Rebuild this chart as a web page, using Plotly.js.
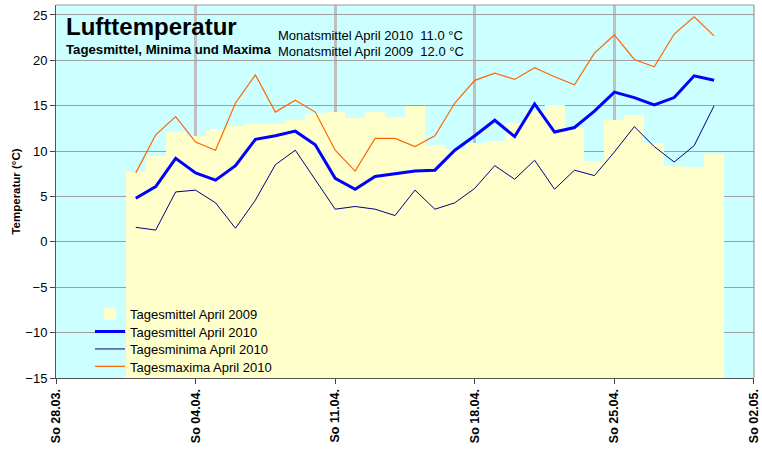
<!DOCTYPE html>
<html>
<head>
<meta charset="utf-8">
<script src="https://cdn.plot.ly/plotly-3.0.1.min.js"></script>
<style>html,body{margin:0;padding:0;background:#fff;}#chart{width:762px;height:450px;}</style>
</head>
<body>
<div id="chart"></div>
<script>
// ---- data ----
const aprilDays = Array.from({length: 30}, (_, i) => '2010-04-' + String(i + 1).padStart(2, '0'));

const mean2009 = [7.7, 9.5, 12.1, 11.7, 12.4, 12.8, 13.0, 13.0, 13.4, 14.2,
                  14.3, 13.6, 14.3, 13.8, 15.0, 10.7, 10.2, 10.9, 11.1, 13.1,
                  14.4, 15.1, 12.6, 8.9, 13.4, 14.0, 10.9, 8.4, 8.2, 9.7];

const mean2010 = [4.8, 6.1, 9.2, 7.6, 6.8, 8.4, 11.3, 11.7, 12.2, 10.7,
                  7.0, 5.8, 7.2, 7.5, 7.8, 7.9, 10.1, 11.7, 13.4, 11.6,
                  15.2, 12.1, 12.6, 14.4, 16.5, 15.9, 15.1, 15.9, 18.3, 17.8];

const min2010 = [1.6, 1.3, 5.5, 5.7, 4.3, 1.5, 4.6, 8.5, 10.1, 6.8,
                 3.6, 3.9, 3.6, 2.9, 5.7, 3.6, 4.3, 5.9, 8.4, 6.9,
                 9.0, 5.8, 7.9, 7.3, 9.9, 12.7, 10.5, 8.8, 10.6, 15.0];

const max2010 = [7.6, 11.8, 13.8, 11.0, 10.1, 15.3, 18.4, 14.3, 15.6, 14.3,
                 10.1, 7.8, 11.4, 11.4, 10.5, 11.7, 15.3, 17.8, 18.6, 17.9,
                 19.2, 18.2, 17.3, 20.8, 22.8, 20.1, 19.3, 22.9, 24.8, 22.7];

const tickDates = ['2010-03-28', '2010-04-04', '2010-04-11', '2010-04-18', '2010-04-25', '2010-05-02'];
const tickLabels = ['So 28.03.', 'So 04.04.', 'So 11.04.', 'So 18.04.', 'So 25.04.', 'So 02.05.'];
const yTicks = [-15, -10, -5, 0, 5, 10, 15, 20, 25];

const monthMean2010 = '11.0';
const monthMean2009 = '12.0';
const axisBase = -15;

// ---- chart ----
const FONT = 'Liberation Sans, Arial, Helvetica, sans-serif';
const DAY_MS = 86400000;

const traces = [
  {
    type: 'bar', name: 'Tagesmittel April 2009', legend: 'legend',
    x: aprilDays, y: mean2009.map(v => v - axisBase), base: axisBase,
    width: DAY_MS, marker: {color: '#FFFFCC', line: {width: 0}}
  },
  {
    type: 'scatter', mode: 'lines', name: 'Tagesmittel April 2010', legend: 'legend2',
    x: aprilDays, y: mean2010, line: {color: '#0000FF', width: 3}
  },
  {
    type: 'scatter', mode: 'lines', name: 'Tagesminima April 2010', legend: 'legend3',
    x: aprilDays, y: min2010, line: {color: '#000080', width: 1}
  },
  {
    type: 'scatter', mode: 'lines', name: 'Tagesmaxima April 2010', legend: 'legend4',
    x: aprilDays, y: max2010, line: {color: '#FF6600', width: 1.2}
  }
];

const L = 56, R = 8, T = 5, B = 72;
const W = 762 - L - R, H = 450 - T - B;
const px = v => (v - L) / W;
const py = v => (T + H - v) / H;
const CYAN = '#CCFFFF';

function legendAt(yPix) {
  return {
    x: px(90), y: py(yPix), xanchor: 'left', yanchor: 'middle',
    bgcolor: 'rgba(0,0,0,0)', borderwidth: 0,
    font: {family: FONT, size: 13, color: '#000'},
    itemwidth: 30
  };
}

const layout = {
  width: 762, height: 450,
  margin: {l: L, r: R, t: T, b: B, pad: 0},
  paper_bgcolor: '#FFFFFF',
  plot_bgcolor: CYAN,
  bargap: 0,
  font: {family: FONT, size: 13, color: '#000'},
  showlegend: true,
  legend: legendAt(314),
  legend2: legendAt(331.5),
  legend3: legendAt(349),
  legend4: legendAt(366.5),
  xaxis: {
    type: 'date',
    range: ['2010-03-28 00:00', '2010-05-02 00:02'],
    tickmode: 'array', tickvals: tickDates, ticktext: tickLabels,
    tickangle: -90,
    ticklabeloverflow: 'allow',
    tickfont: {family: FONT, size: 12.5, weight: 'bold', color: '#000'},
    ticks: 'outside', ticklen: 5, tickcolor: '#444', tickwidth: 1,
    showgrid: true, gridcolor: '#C0C0C0', gridwidth: 3,
    showline: true, linecolor: '#555', linewidth: 1,
    zeroline: false, fixedrange: true
  },
  yaxis: {
    range: [-15, 26.1],
    tickmode: 'array', tickvals: yTicks,
    tickfont: {family: FONT, size: 13, color: '#000'},
    ticks: 'outside', ticklen: 5, tickcolor: '#444', tickwidth: 1,
    showgrid: true, gridcolor: '#A0A0A0', gridwidth: 1,
    zeroline: false,
    showline: true, linecolor: '#555', linewidth: 1,
    title: {text: 'Temperatur (°C)', font: {family: FONT, size: 11.5, weight: 'bold', color: '#000'}, standoff: 2},
    fixedrange: true
  },
  shapes: [
    // cyan boxes behind the title texts and the legend (hide gridlines there)
    {type: 'rect', xref: 'paper', yref: 'paper', x0: 0, x1: px(315), y0: py(62), y1: py(8),
     fillcolor: CYAN, line: {width: 0}, layer: 'between'},
    {type: 'rect', xref: 'paper', yref: 'paper', x0: px(275), x1: px(490), y0: py(62), y1: py(23),
     fillcolor: CYAN, line: {width: 0}, layer: 'between'},
    {type: 'rect', xref: 'paper', yref: 'paper', x0: px(87), x1: px(300), y0: py(377), y1: py(300),
     fillcolor: CYAN, line: {width: 0}, layer: 'between'},
    // top and right frame
    {type: 'line', xref: 'paper', yref: 'paper', x0: 0, x1: 1, y0: 1, y1: 1,
     line: {color: '#999999', width: 1}, layer: 'above'},
    {type: 'line', xref: 'paper', yref: 'paper', x0: 1, x1: 1, y0: 0, y1: 1,
     line: {color: '#888888', width: 1}, layer: 'above'}
  ],
  annotations: [
    {text: 'Lufttemperatur', xref: 'paper', yref: 'paper', x: px(64), y: py(26),
     xanchor: 'left', yanchor: 'middle', showarrow: false,
     font: {family: FONT, size: 24, weight: 'bold', color: '#000'}},
    {text: 'Tagesmittel, Minima und Maxima', xref: 'paper', yref: 'paper', x: px(64), y: py(49.5),
     xanchor: 'left', yanchor: 'middle', showarrow: false,
     font: {family: FONT, size: 13.2, weight: 'bold', color: '#000'}},
    {text: 'Monatsmittel April 2010\u00A0\u00A0' + monthMean2010 + ' °C', xref: 'paper', yref: 'paper', x: px(276), y: py(35),
     xanchor: 'left', yanchor: 'middle', showarrow: false,
     font: {family: FONT, size: 13, color: '#000'}},
    {text: 'Monatsmittel April 2009\u00A0\u00A0' + monthMean2009 + ' °C', xref: 'paper', yref: 'paper', x: px(276), y: py(51.5),
     xanchor: 'left', yanchor: 'middle', showarrow: false,
     font: {family: FONT, size: 13, color: '#000'}}
  ]
};

Plotly.newPlot('chart', traces, layout, {displayModeBar: false, staticPlot: true});
</script>
</body>
</html>
